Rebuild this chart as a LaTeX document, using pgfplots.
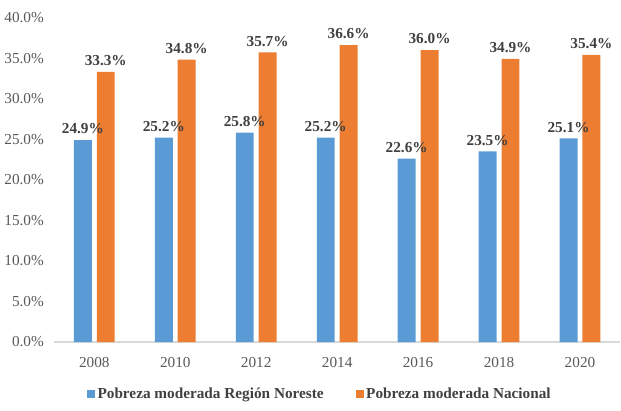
\documentclass[border=0pt]{standalone}
\usepackage{pgfplots}
\pgfplotsset{compat=1.18}
\usepackage{fontspec}
\setmainfont{Liberation Serif}
\definecolor{cblue}{HTML}{5B9BD5}
\definecolor{corange}{HTML}{ED7D31}
\definecolor{tickgray}{HTML}{595959}
\definecolor{labgray}{HTML}{404040}
\begin{document}
\begin{tikzpicture}
\begin{axis}[
    scale only axis,
    width=427pt,
    height=244.5pt,
    ybar=3.75pt,
    bar width=13.5pt,
    xmin=-0.5, xmax=6.5,
    ymin=0, ymax=40,
    xtick=data,
    xticklabels={2008,2010,2012,2014,2016,2018,2020},
    ytick={0,5,...,40},
    yticklabel={\pgfmathprintnumber[fixed,fixed zerofill,precision=1]{\tick}\%},
    /pgf/number format/assume math mode=true,
    axis x line=bottom,
    axis y line=left,
    y axis line style={draw=none},
    x axis line style={-, draw=black!15, line width=0.8pt},
    major tick length=0pt,
    tick label style={font=\fontsize{11.5}{13}\selectfont, text=tickgray},
    yticklabel style={xshift=-4pt},
    xticklabel style={yshift=-8pt},
    nodes near coords={\pgfmathprintnumber[fixed,fixed zerofill,precision=1]{\pgfplotspointmeta}\%},
    every node near coord/.append style={font=\bfseries\fontsize{11.5}{13}\selectfont, text=labgray, anchor=south, yshift=1pt},
    legend style={at={(0.47,-0.125)}, anchor=north, draw=none, legend columns=2,
        font=\bfseries\fontsize{11.5}{13}\selectfont, text=labgray,
        /tikz/every even column/.append style={column sep=22pt}},
    legend image code/.code={\fill[#1] (0pt,-3pt) rectangle (6pt,3pt);},
]
\addplot[fill=cblue, draw=none] coordinates {(0,24.9) (1,25.2) (2,25.8) (3,25.2) (4,22.6) (5,23.5) (6,25.1)};
\addplot[fill=corange, draw=none] coordinates {(0,33.3) (1,34.8) (2,35.7) (3,36.6) (4,36.0) (5,34.9) (6,35.4)};
\legend{Pobreza moderada Región Noreste, Pobreza moderada Nacional}
\end{axis}
\path ([yshift=6pt]current bounding box.north) -- ([yshift=-3pt]current bounding box.south);
\end{tikzpicture}
\end{document}
